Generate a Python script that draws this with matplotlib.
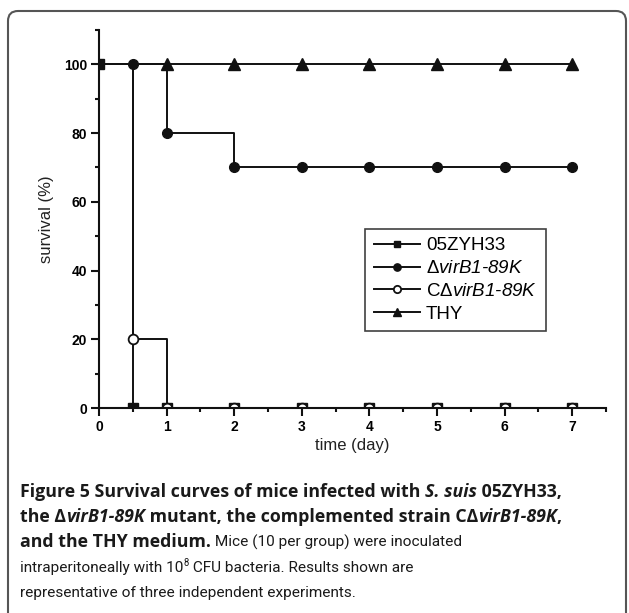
import numpy as np
import matplotlib
matplotlib.use("Agg")
import matplotlib.pyplot as plt
from matplotlib.patches import FancyBboxPatch
from matplotlib.transforms import IdentityTransform

#Data
days = [0, 0.5, 1, 2, 3, 4, 5, 6, 7]
wt = [100, 0, 0, 0, 0, 0, 0, 0, 0]
mutant = [100, 100, 80, 70, 70, 70, 70, 70, 70]
complemented = [100, 20, 0, 0, 0, 0, 0, 0, 0]
thy = [100, 100, 100, 100, 100, 100, 100, 100, 100]

names = ["05ZYH33", r"$\mathrm{\Delta}$virB1-89K", r"$\mathrm{C\Delta}$virB1-89K", "THY"]
italic_names = [False, True, True, False]

#Fonts
plt.rcParams['font.family'] = 'Liberation Sans'
plt.rcParams['mathtext.fontset'] = 'custom'
plt.rcParams['mathtext.rm'] = 'Liberation Sans'
plt.rcParams['mathtext.it'] = 'Liberation Sans:italic'
plt.rcParams['mathtext.bf'] = 'Liberation Sans:bold'

INK = '#111111'
fig = plt.figure(figsize=(6.29, 6.13), dpi=100)
W, H = 629, 613
ax = fig.add_axes([99/W, 1-408/H, (606-99)/W, (408-30)/H])

#Plot the curves
l4, = ax.plot(days, thy, '-^', color=INK, lw=1.4, ms=8.5, markevery=slice(2, None), drawstyle='steps-post')
l2, = ax.plot(days, mutant, '-o', color=INK, lw=1.4, ms=7, drawstyle='steps-post')
l1, = ax.plot(days, wt, '-s', color=INK, lw=1.4, ms=6.5, drawstyle='steps-post')
l3, = ax.plot(days, complemented, '-o', color=INK, mfc='white', mec=INK, mew=1.3, lw=1.4, ms=7,
              markevery=slice(1, None), drawstyle='steps-post')

#Format the axes
ax.set_xlim(0, 7.5)
ax.set_ylim(0, 110)
ax.set_xticks(range(0, 8))
ax.set_xticks(np.arange(0.5, 7.6, 1), minor=True)
ax.set_yticks(range(0, 101, 20))
ax.set_yticks(range(10, 111, 20), minor=True)
for s in ['top', 'right']:
    ax.spines[s].set_visible(False)
for s in ['left', 'bottom']:
    ax.spines[s].set_linewidth(1.5)
    ax.spines[s].set_color(INK)
ax.tick_params(which='major', direction='out', length=5.5, width=1.5, color=INK, labelsize=10, pad=3)
ax.tick_params(which='minor', direction='out', length=3, width=1.5, color=INK)
for lab in ax.get_xticklabels() + ax.get_yticklabels():
    lab.set_fontweight('bold')
ax.patch.set_alpha(0)

#Label the axes
ax.set_xlabel("time (day)", fontsize=12, labelpad=3, color='#222222')
ax.set_ylabel("survival (%)", fontsize=12, labelpad=7, color='#222222')

#Make the legend
leg = ax.legend([l1, l2, l3, l4], names, loc='upper left', bbox_to_anchor=(0.525, 0.474),
                borderaxespad=0, fontsize=13.5, frameon=True, fancybox=False, handlelength=2.5,
                handletextpad=0.3, labelspacing=0.3, borderpad=0.45, markerscale=0.75)
leg.get_frame().set_edgecolor(INK)
leg.get_frame().set_linewidth(1.2)
for t, it in zip(leg.get_texts(), italic_names):
    if it:
        t.set_fontstyle('italic')

#Frame around the figure
frame = FancyBboxPatch((8, -20), 618, 613-11+20, boxstyle="round,pad=0,rounding_size=10",
                       fc='none', ec='#555555', lw=1.5, transform=IdentityTransform())
fig.add_artist(frame)

#Caption
renderer = fig.canvas.get_renderer()
bold = dict(family='Open Sans', weight='bold', style='normal')
boldit = dict(family='Open Sans', weight='bold', style='italic')
reg = dict(family='Roboto', weight='normal', style='normal')
BS = 12.8

def width(s, props, size):
    t = fig.text(0, 0, s + "|", fontsize=size, transform=IdentityTransform(), **props)
    b = fig.text(0, 0, "|", fontsize=size, transform=IdentityTransform(), **props)
    w = t.get_window_extent(renderer).width - b.get_window_extent(renderer).width
    t.remove()
    b.remove()
    return w

#plain text size so the last lines span roughly as in the original
RS = 11.4 * (343 - 20) / width("representative of three independent experiments.", reg, 11)

def draw_runs(x, ybase, runs):
    for s, props, kind in runs:
        size = BS if props is not reg else RS
        dy = 0
        if kind == 'sup':
            size, dy = RS * 0.62, 6
        fig.text(x, H - ybase + dy, s, fontsize=size, color='#1a1a1a', va='baseline',
                 transform=IdentityTransform(), **props)
        x += width(s, props, size)

lines = [
    [("Figure 5 Survival curves of mice infected with ", bold, ''), ("S. suis", boldit, ''),
     (" 05ZYH33,", bold, '')],
    [("the Δ", bold, ''), ("virB1-89K", boldit, ''), (" mutant, the complemented strain CΔ", bold, ''),
     ("virB1-89K", boldit, ''), (",", bold, '')],
    [("and the THY medium.", bold, ''), (" Mice (10 per group) were inoculated", reg, '')],
    [("intraperitoneally with 10", reg, ''), ("8", reg, 'sup'), (" CFU bacteria. Results shown are", reg, '')],
    [("representative of three independent experiments.", reg, '')],
]
for i, runs in enumerate(lines):
    draw_runs(20, 497 + 25*i, runs)

#Save the graph
fig.savefig("out.png", dpi=100)
